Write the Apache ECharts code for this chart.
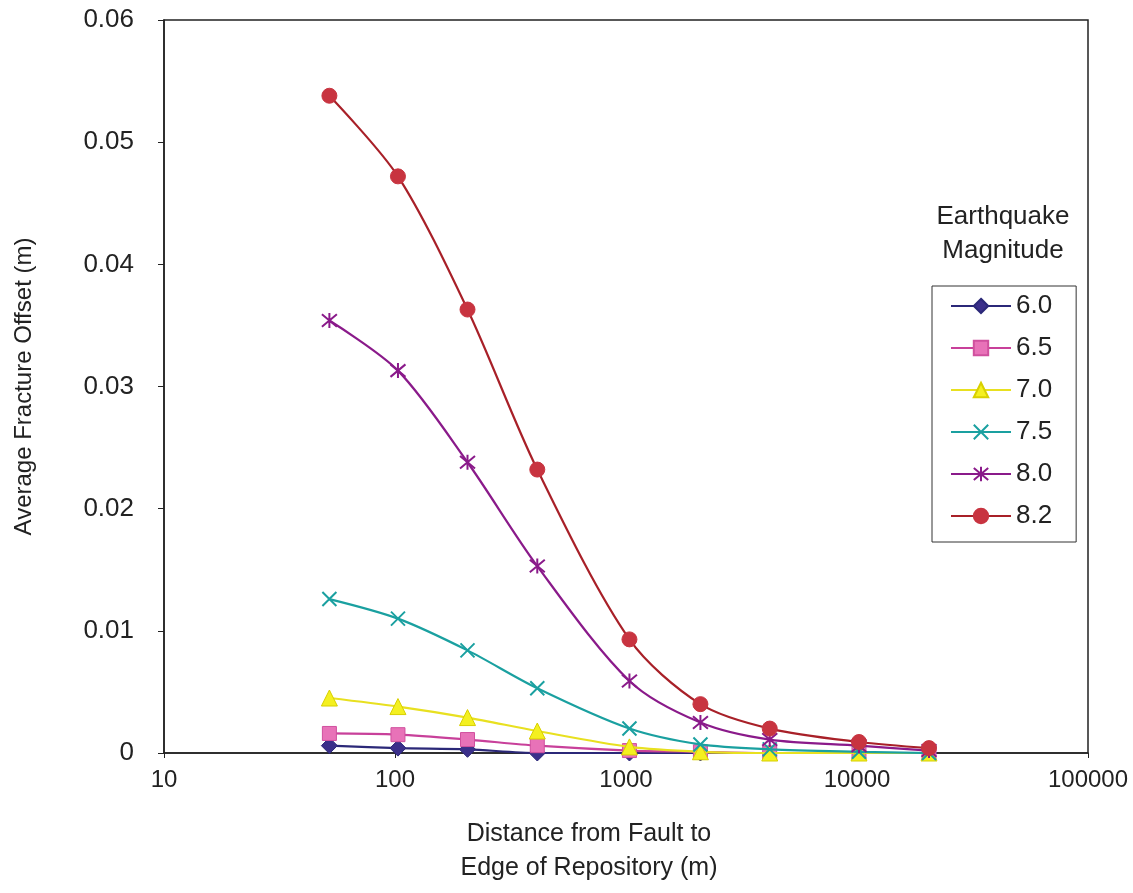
<!DOCTYPE html>
<html><head><meta charset="utf-8">
<script src="https://cdn.jsdelivr.net/npm/echarts@6/dist/echarts.min.js"></script>
<style>html,body{margin:0;padding:0;background:#fff}#c{width:1133px;height:893px}</style>
</head><body><div id="c"></div>
<script>
const distances = [52, 103, 206, 413, 1035, 2100, 4190, 10200, 20500];
const magnitudes = ['6.0', '6.5', '7.0', '7.5', '8.0', '8.2'];
const m60 = [0.0006, 0.0004, 0.0003, 0.0000, 0.0000, 0.0000, 0.0000, 0.0000, 0.0000];
const m65 = [0.0016, 0.0015, 0.0011, 0.0006, 0.0002, 0.0001, 0.0000, 0.0000, 0.0000];
const m70 = [0.0045, 0.0038, 0.0029, 0.0018, 0.0005, 0.0001, 0.0000, 0.0000, 0.0000];
const m75 = [0.0126, 0.0110, 0.0084, 0.0053, 0.0020, 0.0007, 0.0003, 0.0001, 0.0000];
const m80 = [0.0354, 0.0313, 0.0238, 0.0153, 0.0059, 0.0025, 0.0011, 0.0006, 0.0002];
const m82 = [0.0538, 0.0472, 0.0363, 0.0232, 0.0093, 0.0040, 0.0020, 0.0009, 0.0004];
const yTicks = ['0', '0.01', '0.02', '0.03', '0.04', '0.05', '0.06'];
const xTicks = ['10', '100', '1000', '10000', '100000'];

const values = [m60, m65, m70, m75, m80, m82];
const FONT = '"Liberation Sans", Arial, sans-serif';
const styles = [
  {line:'#2b2878', fill:'#3b2f8a', border:'#2b2878', symbol:'diamond', size:16},
  {line:'#c8409a', fill:'#e872b8', border:'#d0509e', symbol:'rect', size:14},
  {line:'#e8e020', fill:'#f4f020', border:'#d8d000', symbol:'triangle', size:16},
  {line:'#1aa0a0', fill:'none', border:'#1aa0a0', symbol:'path://M0,0L10,10M10,0L0,10', size:14},
  {line:'#8a1a8a', fill:'none', border:'#8a1a8a', symbol:'path://M0,0L10,10M10,0L0,10M5,-1L5,11', size:15},
  {line:'#a82028', fill:'#c83440', border:'#c83440', symbol:'circle', size:15}
];

const series = magnitudes.map((m, i) => {
  const s = styles[i];
  const isStroke = s.fill === 'none';
  return {
    name: m, type: 'line', smooth: 0.3,
    data: distances.map((d, j) => [d, values[i][j]]),
    symbol: s.symbol, symbolSize: s.size,
    lineStyle: {color: s.line, width: 2.2},
    itemStyle: isStroke ? {color: 'rgba(0,0,0,0)', borderColor: s.border, borderWidth: 2} : {color: s.fill, borderColor: s.border, borderWidth: 1},
    z: 2 + i
  };
});

const chart = echarts.init(document.getElementById('c'), null, {renderer: 'canvas'});
chart.setOption({
  animation: false,
  backgroundColor: '#fff',
  grid: {left: 164, right: 45, top: 20, bottom: 140, show: true, borderColor: '#222', borderWidth: 1.5},
  title: {
    text: 'Earthquake\nMagnitude', left: 998, top: 195, textAlign: 'center',
    textStyle: {fontFamily: FONT, fontSize: 26, fontWeight: 'normal', color: '#222', lineHeight: 34}
  },
  legend: {
    orient: 'vertical', left: 932, top: 286,
    padding: [7, 24, 13, 18], itemGap: 16, itemWidth: 60, itemHeight: 18,
    borderColor: '#333', borderWidth: 1, backgroundColor: '#fff',
    textStyle: {fontFamily: FONT, fontSize: 26, color: '#222'},
    data: magnitudes
  },
  xAxis: {
    type: 'log', logBase: 10, min: 10, max: 100000,
    name: 'Distance from Fault to\nEdge of Repository (m)', nameLocation: 'middle', nameGap: 64,
    nameTextStyle: {fontFamily: FONT, fontSize: 25, color: '#222', lineHeight: 34, padding: [0, 74, 0, 0]},
    axisLine: {lineStyle: {color: '#222', width: 1.5}},
    axisTick: {show: true, inside: false, length: 5, lineStyle: {color: '#222'}},
    minorTick: {show: false},
    splitLine: {show: false},
    axisLabel: {fontFamily: FONT, fontSize: 24, color: '#222', margin: 15,
      formatter: v => xTicks.find(t => Math.abs(Number(t) - v) / v < 1e-6) || ''}
  },
  yAxis: {
    type: 'value', min: 0, max: 0.06, interval: 0.01,
    name: 'Average Fracture Offset (m)', nameLocation: 'middle', nameGap: 128,
    nameTextStyle: {fontFamily: FONT, fontSize: 24, color: '#222'},
    axisLine: {show: true, lineStyle: {color: '#222', width: 1.5}},
    axisTick: {show: true, inside: false, length: 6, lineStyle: {color: '#222'}},
    splitLine: {show: false},
    axisLabel: {fontFamily: FONT, fontSize: 26, color: '#222', margin: 30,
      formatter: v => yTicks[Math.round(v / 0.01)]}
  },
  series: series
});
</script></body></html>
